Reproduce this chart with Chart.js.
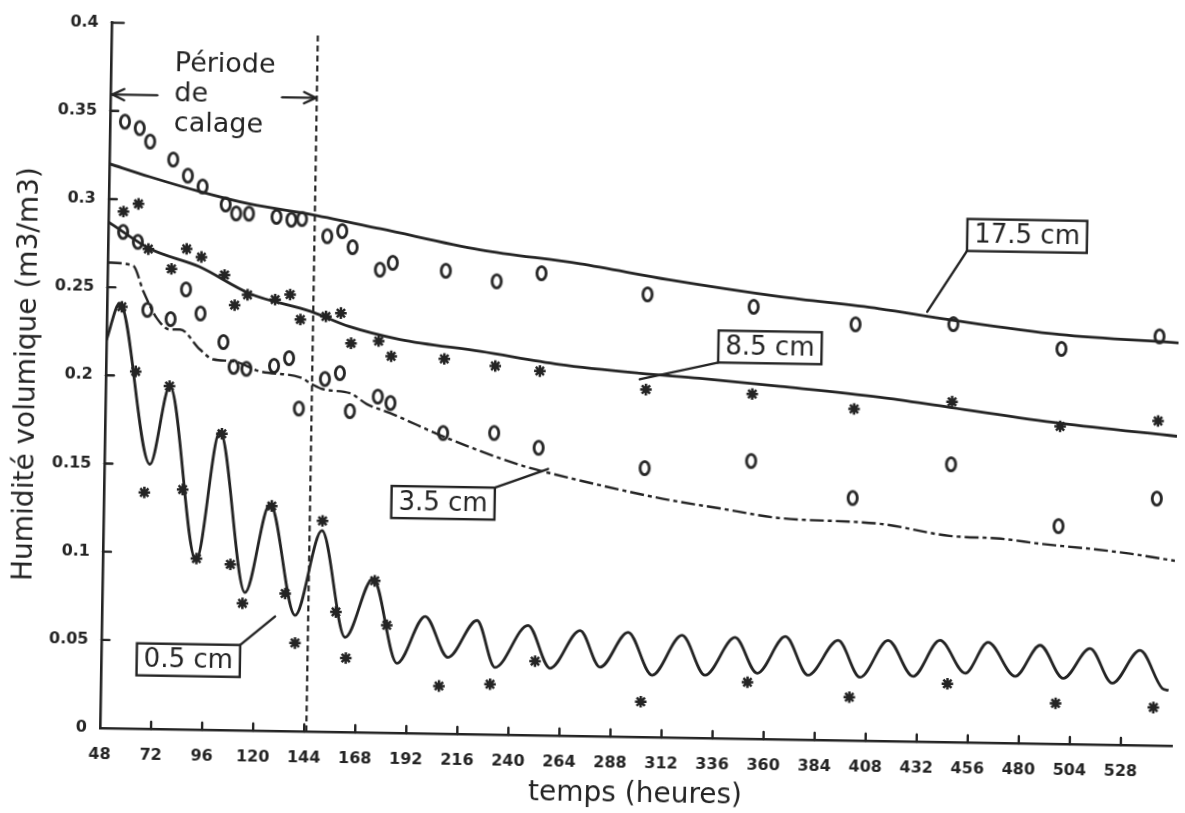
<!DOCTYPE html>
<html>
<head>
<meta charset="utf-8">
<script src="https://cdn.jsdelivr.net/npm/chart.js@4.4.0/dist/chart.umd.min.js"></script>
<style>
  html, body { margin: 0; padding: 0; background: #fff; overflow: hidden; }
  /* the plotted sheet sits slightly tilted */
  #sheet { position: absolute; left: 0; top: 0; width: 1185px; height: 813px;
           transform-origin: 100px 728px; transform: rotate(0.95deg); }
</style>
</head>
<body>
<div id="sheet"><canvas id="humidite" width="1185" height="813"></canvas></div>
<script>
const ink = '#242424';

// simulated profiles: time (h) / volumetric water content (m3/m3)
const simHours175 = [48, 67, 91, 114, 144, 176, 223, 270, 312, 364, 411, 444, 496, 552];
const sim175 = [0.320, 0.313, 0.305, 0.2986, 0.293, 0.2857, 0.2747, 0.2677, 0.2595, 0.2510, 0.2451, 0.2395, 0.2321, 0.2285];

const simHours85 = [48, 68, 91, 115, 144, 162, 186, 224, 261, 299, 327, 365, 412, 445, 497, 552];
const sim85 = [0.287, 0.272, 0.2625, 0.2477, 0.2381, 0.230, 0.2231, 0.2171, 0.2105, 0.2062, 0.2039, 0.2001, 0.1949, 0.1898, 0.1818, 0.1755];

const simHours35 = [48, 60, 65, 71.6, 77.8, 82.5, 92, 98.3, 107.7, 120.4, 139.3, 145, 150.2, 163, 171, 182, 209, 245, 259, 311, 339, 365, 413, 446, 470, 488.5, 512, 531, 552];
const sim35 = [0.264, 0.2624, 0.2479, 0.2327, 0.2266, 0.2267, 0.2156, 0.2101, 0.2092, 0.2037, 0.2007, 0.1969, 0.1942, 0.1921, 0.1861, 0.1812, 0.1676, 0.1525, 0.1483, 0.1352, 0.1301, 0.1255, 0.1231, 0.1169, 0.1158, 0.1133, 0.1109, 0.1085, 0.1049];

const simHours05 = [48, 54, 69.4, 78.2, 91.8, 102.1, 115.1, 126.2, 138.8, 150.8, 162.5, 175.2, 187.1, 200, 211, 224.4, 233.2, 248.4, 259.1, 272.9, 282.6, 295.5, 307.1, 320.9, 332, 345.8, 356.5, 369.5, 380.4, 394.3, 404.9, 417.8, 429.8, 442.2, 454.3, 464.8, 477.8, 489.3, 500.4, 512.8, 523.5, 536.3, 547, 550];
const sim05 = [0.220, 0.241, 0.150, 0.1945, 0.0958, 0.1695, 0.0782, 0.1287, 0.0657, 0.1140, 0.0537, 0.0873, 0.0395, 0.0663, 0.0433, 0.0645, 0.0381, 0.0622, 0.0381, 0.0598, 0.0392, 0.0592, 0.0351, 0.0580, 0.0356, 0.0573, 0.0372, 0.0583, 0.0366, 0.0566, 0.0359, 0.0571, 0.0369, 0.0576, 0.0392, 0.0569, 0.0379, 0.0557, 0.0372, 0.0544, 0.0349, 0.0538, 0.0325, 0.0314];

// measured values, same sampling times for the four depths
const obsHours = [55, 62, 67, 78, 85, 92, 103, 108, 114, 127, 134, 139, 151, 158, 163, 176, 182, 207, 231, 252, 302, 352, 400, 446, 497, 543];
const obs175 = [0.344, 0.3405, 0.333, 0.323, 0.314, 0.308, 0.298, 0.293, 0.293, 0.2915, 0.290, 0.2905, 0.281, 0.284, 0.275, 0.2625, 0.2665, 0.2625, 0.257, 0.262, 0.251, 0.245, 0.236, 0.237, 0.224, 0.232];
const obs85 = [0.293, 0.2975, 0.272, 0.261, 0.2725, 0.268, 0.258, 0.241, 0.247, 0.2445, 0.2475, 0.2335, 0.2355, 0.2375, 0.2205, 0.222, 0.2135, 0.2125, 0.209, 0.2065, 0.197, 0.1955, 0.188, 0.193, 0.180, 0.184];
const obs35 = [0.2815, 0.276, 0.2375, 0.2325, 0.2495, 0.236, 0.220, 0.206, 0.205, 0.207, 0.2115, 0.183, 0.200, 0.2035, 0.182, 0.1905, 0.187, 0.1705, 0.171, 0.163, 0.1525, 0.1575, 0.1375, 0.1575, 0.1235, 0.140];
const obs05 = [0.239, 0.2025, 0.134, 0.1945, 0.136, 0.097, 0.168, 0.094, 0.072, 0.1275, 0.078, 0.050, 0.1195, 0.068, 0.042, 0.086, 0.061, 0.027, 0.0285, 0.042, 0.020, 0.032, 0.0245, 0.033, 0.023, 0.0215];

// end of calibration period
const calageEnd = 145;

// depth labels: box centre and the point the leader line touches
const depthLabels = ['17.5 cm', '8.5 cm', '3.5 cm', '0.5 cm'];
const labelCentres = [[480, 0.2877], [360, 0.2221], [207.5, 0.1309], [89, 0.0393]];
const labelTargets = [[433.6, 0.2438], [299, 0.2028], [256.6, 0.1511], [129.4, 0.0649]];

const pairs = (xs, ys) => xs.map((x, i) => ({ x: x, y: ys[i] }));

// hollow "0" used for the 17.5 and 3.5 cm measurements
function ringMarker() {
  const c = document.createElement('canvas');
  c.width = 18; c.height = 22;
  const g = c.getContext('2d');
  g.strokeStyle = ink;
  g.lineWidth = 2.8;
  g.beginPath();
  g.ellipse(9, 11, 4.6, 6.6, 0, 0, Math.PI * 2);
  g.stroke();
  return c;
}
const ring = ringMarker();

const simStyle = {
  showLine: true, pointRadius: 0, borderColor: ink, borderWidth: 2.8,
  cubicInterpolationMode: 'monotone', fill: false
};
const ringStyle = { showLine: false, pointStyle: ring, pointRadius: 6, borderColor: ink };
const starStyle = { showLine: false, pointStyle: 'star', pointRadius: 5.8, borderWidth: 2.5, borderColor: ink };

const decor = {
  id: 'decor',
  afterDatasetsDraw(chart) {
    const { ctx, scales: { x, y } } = chart;
    ctx.save();
    ctx.strokeStyle = ink;
    ctx.fillStyle = ink;
    ctx.lineWidth = 2.4;
    ctx.lineCap = 'round';

    const seg = (x0, y0, x1, y1) => {
      ctx.beginPath(); ctx.moveTo(x0, y0); ctx.lineTo(x1, y1); ctx.stroke();
    };
    const arrow = (x0, y0, x1, y1) => {
      seg(x0, y0, x1, y1);
      const a = Math.atan2(y1 - y0, x1 - x0);
      seg(x1, y1, x1 - 13 * Math.cos(a - 0.45), y1 - 13 * Math.sin(a - 0.45));
      seg(x1, y1, x1 - 13 * Math.cos(a + 0.45), y1 - 13 * Math.sin(a + 0.45));
    };

    // tick marks pointing into the plot
    x.ticks.forEach(t => {
      if (t.value === x.min) return;
      const px = x.getPixelForValue(t.value);
      seg(px, y.bottom, px, y.bottom - 7);
    });
    y.ticks.forEach(t => {
      if (t.value === 0) return;
      const py = y.getPixelForValue(t.value);
      seg(x.left, py, x.left + (t.value === y.max ? 12 : 8), py);
    });

    // calibration period
    const ay = y.getPixelForValue(0.3593);
    arrow(x.getPixelForValue(70), ay, x.left + 2, ay);
    arrow(x.getPixelForValue(128.7), ay, x.getPixelForValue(calageEnd) - 1, ay);
    ctx.font = '27px "DejaVu Sans"';
    ctx.textAlign = 'left';
    ctx.textBaseline = 'middle';
    const tx = x.getPixelForValue(78);
    const ty = y.getPixelForValue(0.377);
    ['Période', 'de', 'calage'].forEach((s, i) => ctx.fillText(s, tx, ty + i * 30));

    // boxed depth labels with leader lines
    ctx.font = '26px "DejaVu Sans"';
    ctx.textAlign = 'center';
    depthLabels.forEach((txt, i) => {
      const cx = x.getPixelForValue(labelCentres[i][0]);
      const cy = y.getPixelForValue(labelCentres[i][1]);
      const w = ctx.measureText(txt).width + 14;
      const h = 32;
      const ex = x.getPixelForValue(labelTargets[i][0]);
      const ey = y.getPixelForValue(labelTargets[i][1]);
      const sx = ex < cx ? cx - w / 2 : cx + w / 2;
      const sy = ey < cy ? cy - h / 2 : cy + h / 2;
      seg(sx, sy, ex, ey);
      ctx.fillStyle = '#fff';
      ctx.fillRect(cx - w / 2, cy - h / 2, w, h);
      ctx.strokeRect(cx - w / 2, cy - h / 2, w, h);
      ctx.fillStyle = ink;
      ctx.fillText(txt, cx, cy + 1);
    });
    ctx.restore();
  }
};

new Chart(document.getElementById('humidite'), {
  type: 'scatter',
  data: {
    datasets: [
      Object.assign({ label: '17.5 cm', data: pairs(simHours175, sim175) }, simStyle),
      Object.assign({ label: '8.5 cm', data: pairs(simHours85, sim85) }, simStyle),
      Object.assign({ label: '3.5 cm', data: pairs(simHours35, sim35) }, simStyle, { borderWidth: 2.4, borderDash: [14, 4, 4, 4] }),
      Object.assign({ label: '0.5 cm', data: pairs(simHours05, sim05) }, simStyle),
      Object.assign({ label: 'calage', data: [{ x: calageEnd, y: 0 }, { x: calageEnd, y: 0.395 }] },
        simStyle, { borderWidth: 2.2, borderDash: [6, 4], cubicInterpolationMode: 'default' }),
      Object.assign({ label: 'mesures 17.5 cm', data: pairs(obsHours, obs175) }, ringStyle),
      Object.assign({ label: 'mesures 3.5 cm', data: pairs(obsHours, obs35) }, ringStyle),
      Object.assign({ label: 'mesures 8.5 cm', data: pairs(obsHours, obs85) }, starStyle),
      Object.assign({ label: 'mesures 0.5 cm', data: pairs(obsHours, obs05) }, starStyle)
    ]
  },
  options: {
    responsive: false,
    animation: false,
    devicePixelRatio: 1,
    layout: { padding: { left: 0, right: 13, top: 20, bottom: 0 } },
    plugins: { legend: { display: false }, tooltip: { enabled: false } },
    scales: {
      x: {
        type: 'linear', min: 48, max: 552,
        grid: { display: false, drawTicks: false },
        border: { display: true, color: ink, width: 2.6 },
        ticks: {
          stepSize: 24, autoSkip: false, maxRotation: 0, padding: 17, color: ink,
          font: { family: 'DejaVu Sans', size: 16, weight: 'bold' }
        },
        title: {
          display: true, text: 'temps (heures)', color: ink,
          font: { family: 'DejaVu Sans', size: 28 }, padding: { top: 0, bottom: 10 }
        },
        afterBuildTicks: s => { s.ticks = s.ticks.filter(t => t.value < s.max); },
        afterFit: s => { s.height = 85; }
      },
      y: {
        min: 0, max: 0.4,
        grid: { display: false, drawTicks: false },
        border: { display: true, color: ink, width: 2.6 },
        ticks: {
          stepSize: 0.05, padding: 13, color: ink,
          font: { family: 'DejaVu Sans', size: 16, weight: 'bold' },
          callback: v => String(+v.toFixed(2))
        },
        title: {
          display: true, text: 'Humidité volumique (m3/m3)', color: ink,
          font: { family: 'DejaVu Sans', size: 28 }, padding: { top: 5, bottom: 0 }
        },
        afterFit: s => { s.width = 100; }
      }
    }
  },
  plugins: [decor]
});
</script>
</body>
</html>
